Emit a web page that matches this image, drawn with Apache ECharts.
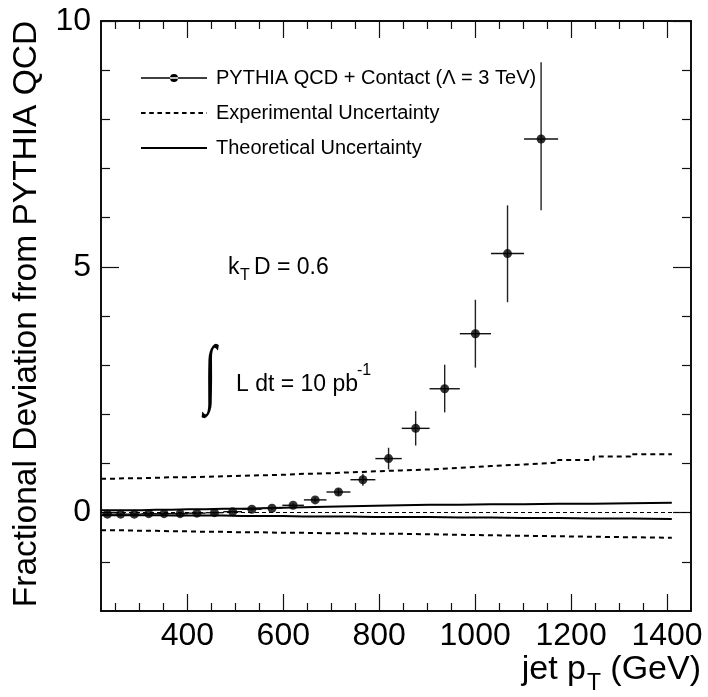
<!DOCTYPE html>
<html><head><meta charset="utf-8">
<script src="https://cdn.jsdelivr.net/npm/echarts@6/dist/echarts.min.js"></script>
<style>html,body{margin:0;padding:0;background:#fff}#c{width:708px;height:697px}</style>
</head><body><div id="c"></div>
<script>
// ---- data ----
const binEdges = [220, 247, 275, 304, 335, 368, 402, 438, 475, 514, 555, 598, 643, 690, 740, 792, 847, 905, 968, 1033, 1102, 1173, 1247, 1324, 1410];
const expUp   = [0.69,0.70,0.70,0.71,0.72,0.72,0.73,0.74,0.75,0.76,0.77,0.79,0.80,0.82,0.84,0.86,0.88,0.91,0.95,0.98,1.02,1.07,1.14,1.19];
const expDown = [-0.36,-0.36,-0.37,-0.37,-0.38,-0.38,-0.39,-0.39,-0.40,-0.40,-0.41,-0.41,-0.42,-0.42,-0.43,-0.43,-0.44,-0.45,-0.46,-0.47,-0.48,-0.49,-0.50,-0.51];
const theoUp  = [0.05,0.05,0.05,0.06,0.06,0.07,0.07,0.08,0.08,0.09,0.10,0.11,0.12,0.13,0.14,0.15,0.16,0.16,0.17,0.17,0.18,0.18,0.19,0.20];
const theoDown= [-0.05,-0.05,-0.05,-0.05,-0.06,-0.06,-0.06,-0.06,-0.07,-0.07,-0.07,-0.08,-0.08,-0.08,-0.09,-0.09,-0.09,-0.10,-0.10,-0.11,-0.11,-0.12,-0.12,-0.13];
const pointValues = [-0.03,-0.03,-0.03,-0.02,-0.02,-0.02,-0.01,0.00,0.02,0.07,0.09,0.15,0.26,0.42,0.67,1.10,1.715,2.52,3.64,5.27,7.60];
const pointErrLow = [0.01,0.01,0.01,0.01,0.01,0.01,0.01,0.02,0.02,0.03,0.03,0.04,0.05,0.07,0.12,0.22,0.35,0.48,0.69,0.99,1.45];
const pointErrHigh= [0.01,0.01,0.01,0.01,0.01,0.01,0.01,0.02,0.02,0.03,0.03,0.04,0.05,0.07,0.12,0.22,0.35,0.49,0.69,0.98,1.56];
const xMajorTicks = [400, 600, 800, 1000, 1200, 1400];
const xMinorTicks = [250,300,350,450,500,550,650,700,750,850,900,950,1050,1100,1150,1250,1300,1350];
const yMajorTicks = [0, 5, 10];
const yMinorTicks = [-1, 1, 2, 3, 4, 6, 7, 8, 9];
const xRange = [220, 1450];
const yRange = [-2, 10];
const seriesNames = ['PYTHIA QCD + Contact (\u039b = 3 TeV)', 'Experimental Uncertainty', 'Theoretical Uncertainty'];

// ---- build ----
function stepData(vals){
  const d = vals.map((v,i)=>[binEdges[i], v]);
  d.push([binEdges[vals.length], vals[vals.length-1]]);
  return d;
}
const points = pointValues.map((v,i)=>{
  const lo = binEdges[i], hi = binEdges[i+1];
  return [(lo+hi)/2, v, lo, hi, v-pointErrLow[i], v+pointErrHigh[i]];
});

const FONT = 'Liberation Sans';
const black = '#000';
const plain = v => String(v);
function xAx(pos, ticks, len, labels){
  return {type:'value', position:pos, min:xRange[0], max:xRange[1], splitLine:{show:false},
    axisLine:{show:true, onZero:false, lineStyle:{color:black, width:1.5}},
    axisTick:{show:true, inside:true, length:len, customValues:ticks, lineStyle:{color:'#111', width:1.2}},
    axisLabel:{show:!!labels, customValues: labels?ticks:undefined, formatter:plain, color:black, fontFamily:FONT, fontSize:32, margin:9}};
}
function yAx(pos, ticks, len, labels){
  return {type:'value', position:pos, min:yRange[0], max:yRange[1], splitLine:{show:false},
    axisLine:{show:true, onZero:false, lineStyle:{color:black, width:1.5}},
    axisTick:{show:true, inside:true, length:len, customValues:ticks, lineStyle:{color:'#111', width:1.2}},
    axisLabel:{show:!!labels, customValues: labels?ticks:undefined, formatter:plain, color:black, fontFamily:FONT, fontSize:32, margin:10}};
}
// legend icons
let dashPath = 'path://';
for (let x = 0; x < 66; x += 8.2) { const w = Math.min(4.6, 66 - x); dashPath += 'M' + x.toFixed(1) + ',3h' + w.toFixed(1) + 'v2h-' + w.toFixed(1) + 'z'; }
const dotIcon = 'path://M0,3.2h66v1.6h-66z M29,4a4,4 0 1,0 8,0a4,4 0 1,0 -8,0z';
const solidIcon = 'path://M0,3h66v2h-66z';

const chart = echarts.init(document.getElementById('c'), null, {renderer:'canvas'});
chart.setOption({
  animation:false,
  backgroundColor:'#fff',
  grid:{left:101, right:17, top:21, bottom:86, containLabel:false},
  xAxis:[xAx('bottom', xMajorTicks, 17, true), xAx('bottom', xMinorTicks, 8, false), xAx('top', xMajorTicks, 17, false), xAx('top', xMinorTicks, 8, false)],
  yAxis:[yAx('left', yMajorTicks, 18, true), yAx('left', yMinorTicks, 9, false), yAx('right', yMajorTicks, 18, false), yAx('right', yMinorTicks, 9, false)],
  legend:{
    orient:'vertical', left:136, top:61, itemGap:11, itemWidth:66, itemHeight:8, symbolKeepAspect:true,
    textStyle:{fontFamily:FONT, fontSize:20, color:black, padding:[0,0,0,4], lineHeight:24},
    itemStyle:{color:black, borderWidth:0},
    data:[
      {name:seriesNames[0], icon:dotIcon},
      {name:seriesNames[1], icon:dashPath},
      {name:seriesNames[2], icon:solidIcon}
    ]
  },
  series:[
    {name:seriesNames[1], type:'line', step:'end', data:stepData(expUp), symbol:'none',
     lineStyle:{color:black, width:2, type:[5,4]}, itemStyle:{color:black},
     markLine:{silent:true, symbol:'none', label:{show:false}, data:[{yAxis:0}], lineStyle:{color:black, width:1, type:[4,3]}}},
    {name:seriesNames[1], type:'line', step:'end', data:stepData(expDown), symbol:'none',
     lineStyle:{color:black, width:2, type:[5,4]}, itemStyle:{color:black}},
    {name:seriesNames[2], type:'line', step:'end', data:stepData(theoUp), symbol:'none',
     lineStyle:{color:black, width:2}, itemStyle:{color:black}},
    {name:seriesNames[2], type:'line', step:'end', data:stepData(theoDown), symbol:'none',
     lineStyle:{color:black, width:2}, itemStyle:{color:black}},
    {name:seriesNames[0], type:'custom', clip:true,
     renderItem:function(params, api){
       const c = api.coord([api.value(0), api.value(1)]);
       const l = api.coord([api.value(2), api.value(1)]);
       const h = api.coord([api.value(3), api.value(1)]);
       const yl = api.coord([api.value(0), api.value(4)]);
       const yh = api.coord([api.value(0), api.value(5)]);
       return {type:'group', children:[
         {type:'line', shape:{x1:l[0], y1:c[1], x2:h[0], y2:c[1]}, style:{stroke:'#111', lineWidth:1.4}},
         {type:'line', shape:{x1:c[0], y1:yl[1], x2:c[0], y2:yh[1]}, style:{stroke:'#222', lineWidth:1.4}}
       ]};
     },
     encode:{x:[0,2,3], y:[1,4,5]},
     data:points, itemStyle:{color:black}, z:5},
    {name:seriesNames[0], type:'scatter', symbol:'circle', symbolSize:9,
     data:points.map(p=>[p[0],p[1]]), itemStyle:{color:black}, z:6}
  ],
  graphic:[
    {type:'text', x:27, y:314, rotation:Math.PI/2, style:{text:'Fractional Deviation from PYTHIA QCD', fontFamily:FONT, fontSize:33.5, fill:black, align:'center', verticalAlign:'middle'}},
    {type:'text', x:586, y:670, style:{text:'jet p', fontFamily:FONT, fontSize:34, fill:black, align:'right', verticalAlign:'middle'}},
    {type:'text', x:587, y:684, style:{text:'T', fontFamily:FONT, fontSize:23, fill:black, align:'left', verticalAlign:'middle'}},
    {type:'text', x:701, y:670, style:{text:'(GeV)', fontFamily:FONT, fontSize:34, fill:black, align:'right', verticalAlign:'middle'}},
    {type:'text', x:228, y:268, style:{text:'k', fontFamily:FONT, fontSize:23, fill:black, verticalAlign:'middle'}},
    {type:'text', x:240, y:276, style:{text:'T', fontFamily:FONT, fontSize:16, fill:black, verticalAlign:'middle'}},
    {type:'text', x:254, y:268, style:{text:'D = 0.6', fontFamily:FONT, fontSize:23, fill:black, verticalAlign:'middle'}},
    {type:'text', x:204, y:378, scaleX:0.6, style:{text:'\u222B', fontFamily:'Liberation Serif', fontSize:76, fill:black, verticalAlign:'middle'}},
    {type:'text', x:236, y:385, style:{text:'L dt = 10 pb', fontFamily:FONT, fontSize:23, fill:black, verticalAlign:'middle'}},
    {type:'text', x:357, y:371, style:{text:'-1', fontFamily:FONT, fontSize:16, fill:black, verticalAlign:'middle'}}
  ]
});
</script></body></html>
